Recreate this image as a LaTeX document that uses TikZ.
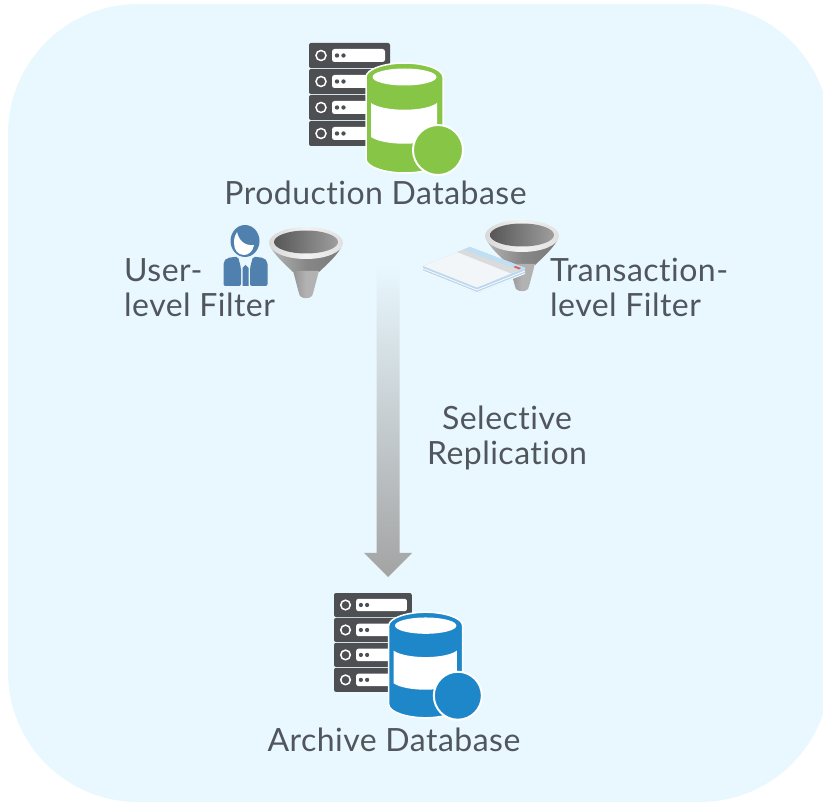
\documentclass[tikz,border=0pt]{standalone}
\usepackage{fontspec}
\setmainfont[Ligatures=NoCommon,LetterSpace=1.5]{Lato}
\definecolor{bgblue}{HTML}{E9F8FF}
\definecolor{txt}{HTML}{50565C}
\definecolor{srv}{HTML}{4D4F53}
\definecolor{dbgreen}{HTML}{86C545}
\definecolor{dbblue}{HTML}{1E87C9}
\definecolor{person}{HTML}{5080AE}
\definecolor{pageblue}{HTML}{BCD8EE}
\definecolor{pagetop}{HTML}{F3F6F8}
\definecolor{tabblue}{HTML}{BFDFF5}
\definecolor{tabred}{HTML}{E0604F}
\tikzset{
  lbl/.style={text=txt,font=\fontsize{32}{37}\selectfont,inner sep=0pt},
  lblL/.style={lbl,anchor=base west,align=left},
  lblC/.style={lbl,anchor=base,align=center},
}
% server + database icon, origin at the top left corner of the server stack
\newcommand{\dbicon}[1]{%
  \foreach \yy in {0,26,52,78}{%
    \fill[srv,rounded corners=2pt] (0,\yy) rectangle (81,\yy+25);
    \draw[white,line width=1.5pt,fill=srv] (12,\yy+12.5) circle (5);
    \fill[white,rounded corners=2.5pt] (23,\yy+6) rectangle (76,\yy+19);
    \fill[srv] (28,\yy+12.5) circle (2.2);
    \fill[srv] (34.5,\yy+12.5) circle (2.2);
  }
  \path[fill=#1,draw=white,line width=1.5pt]
    (57,34) .. controls (57,26) and (76,20) .. (95.5,20)
    .. controls (115,20) and (134,26) .. (134,34) -- (134,116)
    .. controls (134,124) and (115,130) .. (95.5,130)
    .. controls (76,130) and (57,124) .. (57,116) -- cycle;
  \fill[white] (95.5,34) ellipse (32 and 8.5);
  \fill[white] (62,60) .. controls (75,69) and (116,69) .. (128,60) -- (128,94)
    .. controls (116,103) and (75,103) .. (62,94) -- cycle;
  \draw[fill=#1,draw=white,line width=2pt] (129,107) circle (25);
}
% funnel, origin at the centre of the rim
\newcommand{\funnel}{%
  \shade[left color=black!30,right color=black!52,middle color=black!47]
    (-35,5) .. controls (-28,16) and (-18,24) .. (-13,29)
    -- (13,29) .. controls (18,24) and (28,16) .. (35,5) -- cycle;
  \shade[left color=black!42,right color=black!30,middle color=black!30]
    (-13,28) .. controls (-10,38) and (-8,48) .. (-6,53)
    .. controls (-3,56) and (3,56) .. (6,53)
    .. controls (8,48) and (10,38) .. (13,28) -- cycle;
  \shade[left color=black!15,right color=black!12,middle color=black!5]
    (0,0) ellipse (37 and 16);
  \shade[left color=black!66,right color=black!38] (0,-1) ellipse (32 and 11.5);
}
\begin{document}
\begin{tikzpicture}[x=1pt,y=-1pt]
\useasboundingbox (0,0) rectangle (823,802);
\clip (0,0) rectangle (823,802);
\fill[bgblue,rounded corners=130pt] (8,4) rectangle (830,802);

% production database
\begin{scope}[shift={(309,43)}]
  \dbicon{dbgreen}
\end{scope}
\node[lblC] (prod) at (375.5,205) {Production Database};

% user-level filter
\node[lblL] (userf) at (124,282) {User-};
\node[lblL] (userf2) at (124,317) {level Filter};
\fill[person] (245,241) ellipse (14.5 and 16);
\fill[white] (237,232) .. controls (239,241) and (245,246) .. (254,245)
  .. controls (253,252) and (248,255) .. (244,255)
  .. controls (238,255) and (234,250) .. (234,243)
  .. controls (234,238) and (235,235) .. (237,232) -- cycle;
\fill[person,rounded corners=2pt] (223.5,286) -- (223.5,262) -- (227,258) -- (238,256.5) -- (241,268) -- (241,286) -- cycle;
\fill[person,rounded corners=2pt] (267.5,286) -- (267.5,262) -- (264,258) -- (253,256.5) -- (250,268) -- (250,286) -- cycle;
\fill[person] (242.5,286) -- (242.5,268) -- (245.5,265) -- (248.5,268) -- (248.5,286) -- cycle;
\begin{scope}[shift={(306,243)}]
  \funnel
\end{scope}

% transaction-level filter
\begin{scope}[shift={(522,236)}]
  \funnel
\end{scope}
\fill[pageblue] (423,271) -- (477,293) -- (525,274) -- (525,268) -- (470,247) -- (423,266) -- cycle;
\draw[white,line width=.7pt] (423,271) -- (477,292.5) -- (525,273.5);
\draw[white,line width=.7pt] (423,268.5) -- (477,290) -- (525,271);
\fill[pagetop] (423,266) -- (470,247) -- (525,268) -- (477,287.5) -- cycle;
\fill[black!14] (457,252) -- (470,247) -- (525,268) -- (511,273.5) -- cycle;
\fill[pagetop] (452,261) -- (463,256.5) -- (490,267) -- (478,272) -- cycle;
\fill[tabblue] (470,247) -- (525,268) -- (520,270) -- (463,249.5) -- cycle;
\fill[tabred] (515.5,266) -- (521,268) -- (519,269.5) -- (513.5,267) -- cycle;
\node[lblL] (transf) at (550,282) {Transaction-};
\node[lblL] (transf2) at (550,317) {level Filter};

% replication arrow
\coordinate (arrowfrom) at (388,262);
\coordinate (arrowto) at (388,577);
\shade[top color=bgblue,bottom color=black!36]
  ([xshift=-11.5pt]arrowfrom) -- ([xshift=11.5pt]arrowfrom)
  -- ([xshift=11.5pt,yshift=24pt]arrowto) -- ([xshift=24pt,yshift=24pt]arrowto)
  -- (arrowto) -- ([xshift=-24pt,yshift=24pt]arrowto)
  -- ([xshift=-11.5pt,yshift=24pt]arrowto) -- cycle;
\node[lblC] (sel) at (507,430) {Selective};
\node[lblC] (rep) at (507,465) {Replication};

% archive database
\begin{scope}[shift={(334,593)},scale=.96]
  \dbicon{dbblue}
\end{scope}
\node[lblC] (arch) at (394,751) {Archive Database};
\end{tikzpicture}
\end{document}
